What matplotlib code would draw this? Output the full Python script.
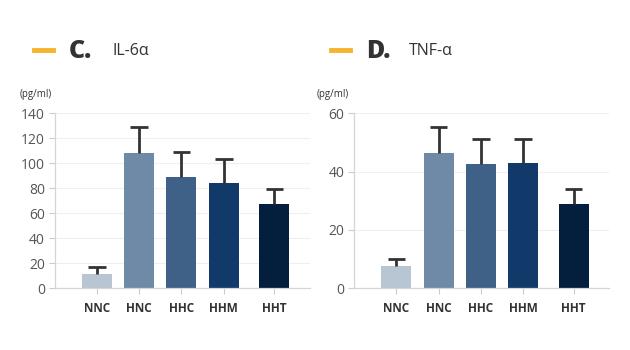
import matplotlib.pyplot as plt

plt.rcParams['font.family'] = ['Open Sans', 'DejaVu Sans']

groups = ["NNC", "HNC", "HHC", "HHM", "HHT"]
xpos = [1, 2, 3, 4, 5.2]
colors = ["#b8c5d3", "#6f8aa6", "#3f6187", "#113a6b", "#041f3e"]

il6_mean = [11.4, 108.5, 89, 84.2, 67.4]
il6_err = [5.9, 20.8, 20.3, 19.2, 12.0]

tnf_mean = [7.6, 46.4, 42.6, 43.0, 28.9]
tnf_err = [2.5, 9.0, 8.6, 8.2, 5.1]


def DrawPanel(fig, rect, means, errs, ymax, ystep, letter, name, x_title):
    ax = fig.add_axes(rect)
    ax.bar(xpos, means, width=0.71, color=colors, zorder=2)
    # upper error bars only (cap on top)
    tops = [m + e for m, e in zip(means, errs)]
    ax.vlines(xpos, means, tops, color='#333333', linewidth=2, zorder=3)
    ax.hlines(tops, [x - 0.21 for x in xpos], [x + 0.21 for x in xpos],
              color='#333333', linewidth=2, zorder=3)
    ax.set_xlim(0, 6.04)
    ax.set_ylim(0, ymax)
    ax.set_yticks(range(0, ymax + 1, ystep))
    ax.set_xticks(xpos)
    ax.set_xticklabels(groups, fontsize=8.5, fontweight='bold', color='#333333')
    ax.tick_params(axis='y', labelsize=10, colors='#cccccc', labelcolor='#555555',
                   length=4, width=0.8, pad=3)
    ax.tick_params(axis='x', colors='#cccccc', labelcolor='#333333',
                   length=4, width=0.8, pad=6)
    ax.grid(axis='y', color='#efefef', linewidth=0.8, zorder=0)
    for s in ['top', 'right']:
        ax.spines[s].set_visible(False)
    for s in ['left', 'bottom']:
        ax.spines[s].set_color('#d5d5d5')
        ax.spines[s].set_linewidth(0.9)

    # header: orange dash, letter, name
    fig.add_artist(plt.Line2D([x_title / 630, (x_title + 19) / 630],
                              [1 - 50 / 350, 1 - 50 / 350],
                              color='#f6b42c', linewidth=3.5))
    fig.text((x_title + 35) / 630, 1 - 51 / 350, letter, fontsize=18,
             fontweight='heavy', color='#333333', va='center')
    fig.text((x_title + 78) / 630, 1 - 51 / 350, name, fontsize=11.5,
             color='#333333', va='center')
    fig.text((x_title - 14) / 630, 1 - 94 / 350, "(pg/ml)", fontsize=7,
             color='#333333', va='center')
    return ax


fig = plt.figure(figsize=(6.3, 3.5), dpi=100)
DrawPanel(fig, [54.5 / 630, 1 - 288.3 / 350, 255.5 / 630, 175 / 350],
          il6_mean, il6_err, 140, 20, "C.", "IL-6α", 34)
DrawPanel(fig, [354.3 / 630, 1 - 288.3 / 350, 254.7 / 630, 175 / 350],
          tnf_mean, tnf_err, 60, 20, "D.", "TNF-α", 331)
fig.savefig("out.png", dpi=100)
